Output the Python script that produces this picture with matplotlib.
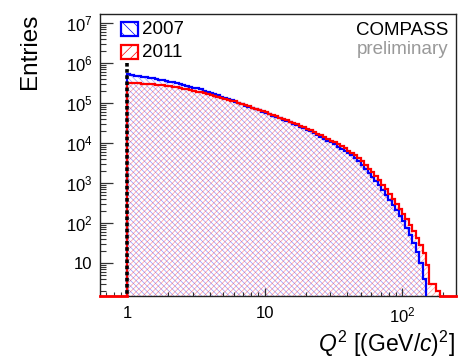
import numpy as np
import matplotlib
matplotlib.use("Agg")
import matplotlib.pyplot as plt
from matplotlib.patches import Rectangle

plt.rcParams['font.family'] = ['Liberation Sans', 'DejaVu Sans']
plt.rcParams['mathtext.fontset'] = 'custom'
plt.rcParams['mathtext.rm'] = 'Liberation Sans'
plt.rcParams['mathtext.it'] = 'Liberation Sans:italic'
plt.rcParams['mathtext.bf'] = 'Liberation Sans:bold'
plt.rcParams['hatch.linewidth'] = 0.5

# ---- data ----
# bin edges in log10(Q^2): 91 bins of width 0.025 from Q^2 = 1
log_edges = np.arange(0, 2.2751, 0.025)
q2_edges = 10 ** log_edges

entries_2007 = [5.21e5, 5.04e5, 4.88e5, 4.73e5, 4.58e5, 4.44e5, 4.30e5, 4.15e5, 4.01e5, 3.87e5,
                3.73e5, 3.60e5, 3.46e5, 3.31e5, 3.16e5, 3.02e5, 2.88e5, 2.73e5, 2.59e5, 2.45e5,
                2.32e5, 2.19e5, 2.06e5, 1.93e5, 1.80e5, 1.68e5, 1.57e5, 1.46e5, 1.36e5, 1.27e5,
                1.18e5, 1.09e5, 1.01e5, 9.38e4, 8.69e4, 8.05e4, 7.50e4, 7.00e4, 6.53e4, 6.08e4,
                5.64e4, 5.21e4, 4.82e4, 4.46e4, 4.12e4, 3.82e4, 3.53e4, 3.27e4, 3.02e4, 2.79e4,
                2.56e4, 2.34e4, 2.14e4, 1.95e4, 1.76e4, 1.59e4, 1.44e4, 1.29e4, 1.16e4, 1.04e4,
                9230, 8200, 7260, 6410, 5620, 4900, 4170, 3470, 2850, 2290,
                1820, 1450, 1140, 881, 676, 513, 385, 282, 207, 153,
                112, 76, 50, 32, 19, 10, 4, 0, 0, 0, 0]
entries_2011 = [3.16e5, 3.15e5, 3.13e5, 3.10e5, 3.08e5, 3.03e5, 2.99e5, 2.94e5, 2.88e5, 2.82e5,
                2.76e5, 2.69e5, 2.62e5, 2.54e5, 2.46e5, 2.38e5, 2.29e5, 2.20e5, 2.12e5, 2.03e5,
                1.94e5, 1.85e5, 1.77e5, 1.68e5, 1.60e5, 1.52e5, 1.44e5, 1.36e5, 1.29e5, 1.22e5,
                1.16e5, 1.10e5, 1.03e5, 9.57e4, 8.89e4, 8.26e4, 7.71e4, 7.21e4, 6.75e4, 6.30e4,
                5.85e4, 5.42e4, 5.02e4, 4.66e4, 4.32e4, 4.01e4, 3.72e4, 3.45e4, 3.20e4, 2.96e4,
                2.73e4, 2.51e4, 2.30e4, 2.10e4, 1.91e4, 1.73e4, 1.57e4, 1.42e4, 1.28e4, 1.15e4,
                1.04e4, 9270, 8260, 7350, 6500, 5730, 4930, 4150, 3470, 2830,
                2290, 1850, 1480, 1160, 908, 700, 533, 396, 294, 220,
                166, 123, 89, 63, 43, 28, 18, 9, 3, 3, 2]
series_labels = ["2007", "2011"]
x_ticks = [1, 10, 100]
x_ticklabels = ["1", "10", r"$10^{2}$"]
y_ticks = [1e1, 1e2, 1e3, 1e4, 1e5, 1e6, 1e7]
y_ticklabels = ["10", r"$10^{2}$", r"$10^{3}$", r"$10^{4}$", r"$10^{5}$", r"$10^{6}$", r"$10^{7}$"]
q2_cut = 1.0

blue = "#0000ff"
red = "#ff0000"

fig = plt.figure(figsize=(4.61, 3.61), dpi=100)
ax = fig.add_axes([0.216, 0.180, 0.773, 0.781])
ax.set_xscale('log')
ax.set_yscale('log')
xlim = (0.631, 247)
ylim = (1.5, 1.68e7)

e07 = np.array(entries_2007, dtype=float)
e11 = np.array(entries_2011, dtype=float)

# hatched fills
ax.stairs(e07, q2_edges, fill=True, baseline=1e-2, facecolor='none',
          edgecolor=(0, 0, 1, 0.4), linewidth=0, hatch='\\\\\\\\\\\\', zorder=1)
ax.stairs(e11, q2_edges, fill=True, baseline=1e-2, facecolor='none',
          edgecolor=(1, 0, 0, 0.4), linewidth=0, hatch='//////', zorder=1)
# outlines
ax.stairs(e07, q2_edges, fill=False, baseline=1e-2, color=blue, linewidth=1.6, zorder=3)
ax.stairs(e11, q2_edges, fill=False, baseline=1e-2, color=red, linewidth=1.6, zorder=4)
# zero-content parts of the histograms along the bottom
ax.plot([xlim[0], q2_edges[0]], [ylim[0]] * 2, color=red, lw=2, zorder=5, clip_on=False)
ax.plot([q2_edges[-1], xlim[1]], [ylim[0]] * 2, color=red, lw=2, zorder=5, clip_on=False)

# cut line
ax.plot([q2_cut, q2_cut], [1e6, ylim[0]], color='black', lw=2.6, dashes=(1.0, 0.7), zorder=6)

ax.set_xlim(*xlim)
ax.set_ylim(*ylim)
ax.set_xticks(x_ticks)
ax.set_xticklabels(x_ticklabels)
ax.set_yticks(y_ticks)
ax.set_yticklabels(y_ticklabels)
ax.xaxis.set_minor_locator(matplotlib.ticker.LogLocator(base=10, subs=np.arange(2, 10), numticks=20))
ax.yaxis.set_minor_locator(matplotlib.ticker.LogLocator(base=10, subs=np.arange(2, 10), numticks=20))
ax.xaxis.set_minor_formatter(matplotlib.ticker.NullFormatter())
ax.yaxis.set_minor_formatter(matplotlib.ticker.NullFormatter())
ax.tick_params(axis='both', which='both', direction='in', top=False, right=False, color='#333333')
ax.tick_params(axis='y', which='major', length=9, width=0.9, labelsize=12, pad=5)
ax.tick_params(axis='y', which='minor', length=4.5, width=0.8)
ax.tick_params(axis='x', which='major', length=5.5, width=0.9, labelsize=12, pad=7)
ax.tick_params(axis='x', which='minor', length=3, width=0.8)
for s in ax.spines.values():
    s.set_linewidth(1.0)
    s.set_color('#222222')

# legend (manual)
ax.add_patch(Rectangle((0.060, 0.922), 0.048, 0.05, transform=ax.transAxes, facecolor='white',
                       edgecolor=blue, lw=1.6, hatch='\\\\\\', zorder=7))
ax.add_patch(Rectangle((0.060, 0.840), 0.048, 0.05, transform=ax.transAxes, facecolor='white',
                       edgecolor=red, lw=1.6, hatch='///', zorder=7))
ax.text(0.119, 0.947, series_labels[0], transform=ax.transAxes, ha='left', va='center', fontsize=13.5, zorder=8)
ax.text(0.119, 0.865, series_labels[1], transform=ax.transAxes, ha='left', va='center', fontsize=13.5, zorder=8)

ax.text(0.978, 0.925, "COMPASS", transform=ax.transAxes, ha='right', va='baseline', fontsize=13.5, color='black')
ax.text(0.978, 0.858, "preliminary", transform=ax.transAxes, ha='right', va='baseline', fontsize=13.5, color='#999999')

fig.text(30 / 461, 1 - 51 / 361, "Entries", rotation=90, ha='center', va='center', fontsize=17.5)
fig.text(455 / 461, 1 - 352 / 361, r"$Q^2$ [(GeV/$c$)$^2$]", ha='right', va='baseline', fontsize=16.5)

fig.savefig("out.png", dpi=100)
